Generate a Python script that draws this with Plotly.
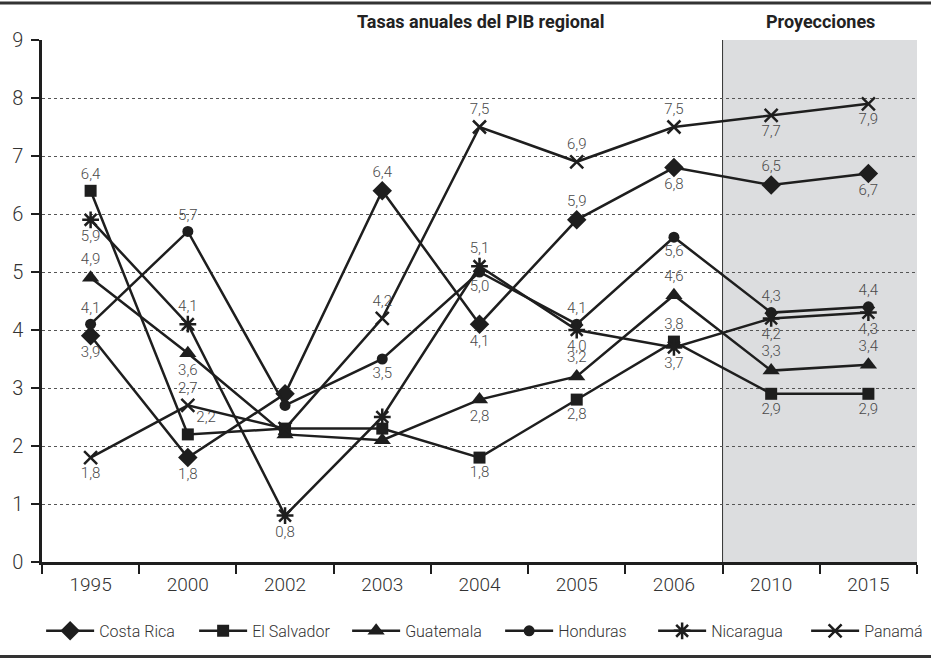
import plotly.graph_objects as go

# Categories (years) and annual GDP growth rates per country
years = ["1995", "2000", "2002", "2003", "2004", "2005", "2006", "2010", "2015"]

costa_rica = [3.9, 1.8, 2.9, 6.4, 4.1, 5.9, 6.8, 6.5, 6.7]
el_salvador = [6.4, 2.2, 2.3, 2.3, 1.8, 2.8, 3.8, 2.9, 2.9]
guatemala = [4.9, 3.6, 2.2, 2.1, 2.8, 3.2, 4.6, 3.3, 3.4]
honduras = [4.1, 5.7, 2.7, 3.5, 5.0, 4.1, 5.6, 4.3, 4.4]
nicaragua = [5.9, 4.1, 0.8, 2.5, 5.1, 4.0, 3.7, 4.2, 4.3]
panama = [1.8, 2.7, 2.3, 4.2, 7.5, 6.9, 7.5, 7.7, 7.9]

# Which points carry a value label
shown_cr = [1, 1, 0, 1, 1, 1, 1, 1, 1]
shown_es = [1, 1, 0, 0, 1, 1, 1, 1, 1]
shown_gt = [1, 1, 0, 0, 1, 1, 1, 1, 1]
shown_hn = [1, 1, 0, 1, 1, 1, 1, 1, 1]
shown_ni = [1, 1, 1, 0, 1, 1, 1, 1, 1]
shown_pa = [1, 1, 0, 1, 1, 1, 1, 1, 1]

T, B = "top center", "bottom center"
pos_cr = [B, B, T, T, B, T, B, T, B]
pos_es = [T, "top right", T, T, B, B, T, B, B]
pos_gt = [T, B, T, T, B, T, T, T, T]
pos_hn = [T, T, T, B, B, T, B, T, T]
pos_ni = [B, T, B, T, T, B, B, B, B]
pos_pa = [B, T, T, T, T, T, T, B, B]

INK = "#1e1e1e"
FONT = "Roboto, Liberation Sans, sans-serif"


def fmt(vals, shown):
    return [f"{v:.1f}".replace(".", ",") if s else "" for v, s in zip(vals, shown)]


series = [
    ("Costa Rica", costa_rica, shown_cr, pos_cr, dict(symbol="diamond", size=15, color=INK)),
    ("El Salvador", el_salvador, shown_es, pos_es, dict(symbol="square", size=12, color=INK)),
    ("Guatemala", guatemala, shown_gt, pos_gt, dict(symbol="triangle-up", size=15, color=INK)),
    ("Honduras", honduras, shown_hn, pos_hn, dict(symbol="circle", size=11, color=INK)),
    ("Nicaragua", nicaragua, shown_ni, pos_ni,
     dict(symbol="asterisk-open", size=14, color=INK, line=dict(color=INK, width=2.5))),
    ("Panamá", panama, shown_pa, pos_pa,
     dict(symbol="x-thin-open", size=13, color=INK, line=dict(color=INK, width=2.5))),
]

fig = go.Figure()
for name, vals, shown, pos, marker in series:
    fig.add_trace(go.Scatter(
        x=years, y=vals, name=name,
        mode="lines+markers+text",
        line=dict(color=INK, width=2.5),
        marker=marker,
        text=fmt(vals, shown),
        textposition=pos,
        textfont=dict(family=FONT, size=15, color="#4a4a4a", weight=300),
        cliponaxis=False,
    ))

# Shaded projection band with its left border
fig.add_shape(type="rect", xref="x", yref="y", x0=6.5, x1=8.5, y0=0, y1=9,
              fillcolor="#dcdddf", line=dict(width=0), layer="below")
fig.add_shape(type="line", xref="x", yref="y", x0=6.5, x1=6.5, y0=0, y1=9,
              line=dict(color="#333333", width=1), layer="below")

# Horizontal rules framing the figure
fig.add_shape(type="line", xref="paper", yref="paper", x0=-0.06, x1=1.03,
              y0=1.071, y1=1.071, line=dict(color="#333333", width=3))
fig.add_shape(type="line", xref="paper", yref="paper", x0=-0.06, x1=1.03,
              y0=-0.181, y1=-0.181, line=dict(color="#333333", width=3))

fig.add_annotation(text="<b>Tasas anuales del PIB regional</b>", xref="paper", yref="paper",
                   x=(606 - 42) / 875, y=1.035, xanchor="right", yanchor="middle",
                   showarrow=False, font=dict(family=FONT, size=18, color="#222222"))
fig.add_annotation(text="<b>Proyecciones</b>", xref="paper", yref="paper",
                   x=(820 - 42) / 875, y=1.035, xanchor="center", yanchor="middle",
                   showarrow=False, font=dict(family=FONT, size=18, color="#222222"))

fig.update_layout(
    width=931, height=659,
    margin=dict(l=42, r=14, t=40, b=97, autoexpand=False),
    paper_bgcolor="white", plot_bgcolor="rgba(0,0,0,0)",
    font=dict(family=FONT, color="#333333"),
    showlegend=True,
    legend=dict(orientation="h", x=-0.001, xanchor="left", y=-0.132, yanchor="middle",
                font=dict(family=FONT, size=16, color="#333333", weight=300),
                entrywidth=90, entrywidthmode="pixels", itemwidth=48,
                bgcolor="rgba(0,0,0,0)"),
)
fig.update_xaxes(
    type="category", range=[-0.5, 8.5],
    showline=True, linecolor=INK, linewidth=2.5,
    ticks="outside", tickson="boundaries", ticklen=9, tickwidth=1.5, tickcolor=INK,
    tickfont=dict(family=FONT, size=19, color="#333333", weight=300),
    ticklabelstandoff=3,
    showgrid=False, zeroline=False,
)
fig.update_yaxes(
    range=[0, 9], dtick=1,
    showline=True, linecolor=INK, linewidth=2.5,
    ticks="outside", ticklen=8, tickwidth=1.5, tickcolor=INK,
    tickfont=dict(family=FONT, size=20, color="#333333", weight=300),
    ticklabelstandoff=4,
    showgrid=True, gridcolor="#555555", gridwidth=1, griddash="dot",
    zeroline=False,
)

fig.write_html("out.html")
